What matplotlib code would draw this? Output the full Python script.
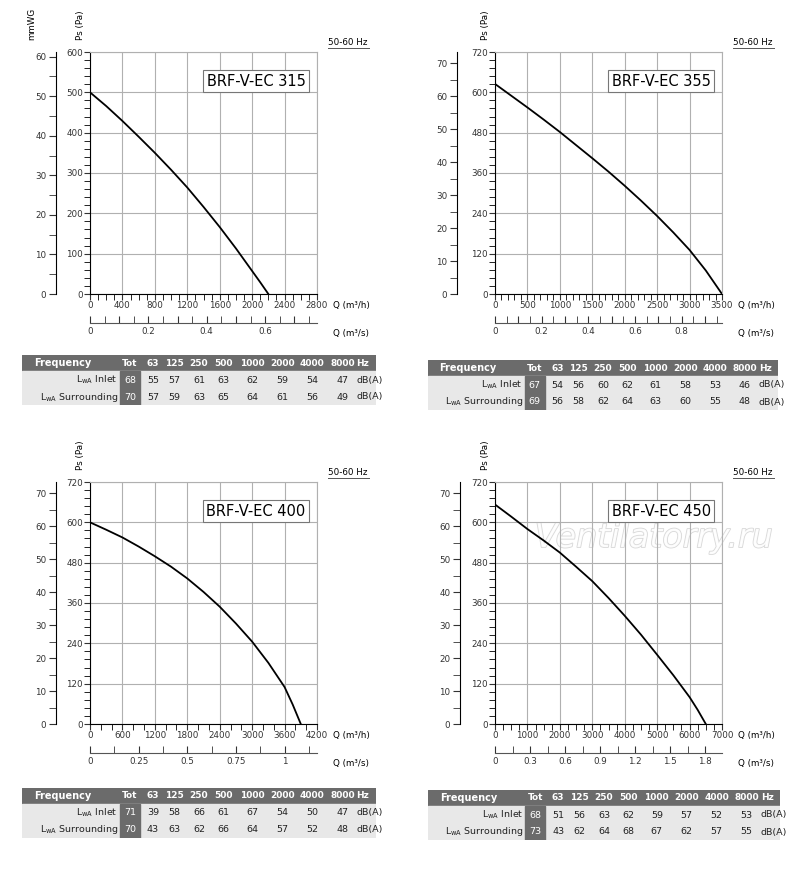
import numpy as np
import matplotlib.pyplot as plt
import matplotlib.patheffects as pe
from matplotlib.patches import Rectangle

W, H = 800, 876

# ---- data ----
models = ['BRF-V-EC 315', 'BRF-V-EC 355', 'BRF-V-EC 400', 'BRF-V-EC 450']
q_315 = [0, 200, 400, 600, 800, 1000, 1200, 1400, 1600, 1800, 2000, 2100, 2200]
p_315 = [500, 466, 429, 390, 350, 308, 264, 216, 166, 113, 57, 29, 0]
q_355 = [0, 250, 500, 750, 1000, 1250, 1500, 1750, 2000, 2250, 2500, 2750, 3000, 3250, 3500]
p_355 = [625, 590, 555, 519, 482, 443, 404, 364, 322, 278, 232, 183, 131, 70, 0]
q_400 = [0, 300, 600, 900, 1200, 1500, 1800, 2100, 2400, 2700, 3000, 3300, 3600, 3750, 3900]
p_400 = [600, 578, 555, 528, 499, 468, 433, 393, 349, 299, 245, 182, 110, 58, 0]
q_450 = [0, 500, 1000, 1500, 2000, 2500, 3000, 3500, 4000, 4500, 5000, 5500, 6000, 6250, 6500]
p_450 = [653, 617, 580, 546, 510, 468, 425, 375, 322, 266, 206, 145, 80, 42, 0]

freqs = ['Tot', '63', '125', '250', '500', '1000', '2000', '4000', '8000', 'Hz']
inlet_315 = [68, 55, 57, 61, 63, 62, 59, 54, 47]
surr_315 = [70, 57, 59, 63, 65, 64, 61, 56, 49]
inlet_355 = [67, 54, 56, 60, 62, 61, 58, 53, 46]
surr_355 = [69, 56, 58, 62, 64, 63, 60, 55, 48]
inlet_400 = [71, 39, 58, 66, 61, 67, 54, 50, 47]
surr_400 = [70, 43, 63, 62, 66, 64, 57, 52, 48]
inlet_450 = [68, 51, 56, 63, 62, 59, 57, 52, 53]
surr_450 = [73, 43, 62, 64, 68, 67, 62, 57, 55]

fig = plt.figure(figsize=(W / 100, H / 100), dpi=100)
fs = 6.3


def ax_px(x0, y0, x1, y1):
    return fig.add_axes([x0 / W, 1 - y1 / H, (x1 - x0) / W, (y1 - y0) / H])


def panel(px, py, q, p, title, ymax, ystep, yminor, xmax, xstep, xminor,
          s_lbl, sstep, sminor, mmwg_x, mm_title, wtext=False):
    x0, y0, x1, y1 = px, py, px + 227, py + 242
    ax = ax_px(x0, y0, x1, y1)
    ax.plot(q, p, color='black', lw=1.3)
    ax.set_xlim(0, xmax)
    ax.set_ylim(0, ymax)
    ax.set_xticks(np.arange(0, xmax + 1, xstep))
    ax.set_xticks(np.arange(0, xmax + 1, xminor), minor=True)
    ax.set_yticks(np.arange(0, ymax + 1, ystep))
    ax.set_yticks(np.arange(0, ymax + 1, yminor), minor=True)
    ax.grid(True, which='major', color='#b0b0b0', lw=0.8)
    for s in ['top', 'right']:
        ax.spines[s].set_color('#b0b0b0')
    ax.tick_params(labelsize=fs, length=4, pad=1, colors='#333333')
    ax.tick_params(which='minor', length=4)
    ax.text(-0.02, 1.05, 'Ps (Pa)', transform=ax.transAxes, rotation=90,
            fontsize=fs, ha='right', va='bottom')
    ax.text(1.07, -0.03, 'Q (m³/h)', transform=ax.transAxes, fontsize=fs,
            ha='left', va='top')
    ax.text(0.95, 0.88, title, transform=ax.transAxes, fontsize=10.5,
            ha='right', va='center',
            bbox=dict(boxstyle='square,pad=0.25', fc='white', ec='#777777', lw=0.8))
    ax.text(1.05, 1.02, '50-60 Hz', transform=ax.transAxes, fontsize=fs,
            ha='left', va='bottom')
    ax.plot([1.05, 1.23], [1.015, 1.015], transform=ax.transAxes,
            color='#555555', lw=0.7, clip_on=False)
    if wtext:
        ax.text(0.7, 0.77, 'Ventilatorry.ru', transform=ax.transAxes,
                fontsize=24, style='italic', color='white', ha='center',
                va='center', zorder=1, alpha=0.9,
                path_effects=[pe.withStroke(linewidth=1.2, foreground='#d4d4d4')])

    # secondary m3/s axis
    sx = ax_px(x0, y0 + 270, x1, y0 + 271)
    sx.set_xlim(0, xmax / 3600)
    sx.set_yticks([])
    for s in ['top', 'left', 'right']:
        sx.spines[s].set_visible(False)
    sx.spines['bottom'].set_color('#555555')
    sx.set_xticks(np.arange(0, xmax / 3600, sstep))
    sx.set_xticklabels(s_lbl)
    sx.set_xticks(np.arange(0, xmax / 3600, sminor), minor=True)
    sx.tick_params(which='both', direction='in', length=5, labelsize=fs, pad=3,
                   colors='#333333')
    sx.patch.set_alpha(0)
    sx.text(1.07, -6, 'Q (m³/s)', transform=sx.transAxes, fontsize=fs,
            ha='left', va='top')

    # mmWG axis
    mx = ax_px(mmwg_x, y0, mmwg_x + 1, y1)
    mx.set_ylim(0, ymax / 9.81)
    mx.set_xticks([])
    for s in ['top', 'bottom', 'right']:
        mx.spines[s].set_visible(False)
    mx.set_yticks(np.arange(0, ymax / 9.81, 10))
    mx.set_yticks(np.arange(0, ymax / 9.81, 5), minor=True)
    mx.tick_params(which='both', length=5, labelsize=fs, pad=2, colors='#333333')
    mx.patch.set_alpha(0)
    if mm_title:
        mx.text(-20, 1.05, 'mmWG', transform=mx.transAxes, rotation=90,
                fontsize=fs, ha='right', va='bottom')


def table(x0, y0, x1, inlet, surr):
    t = ax_px(x0, y0, x1, y0 + 50)
    t.set_xlim(x0, x1)
    t.set_ylim(y0 + 50, y0)
    t.axis('off')
    t.add_patch(Rectangle((x0, y0), x1 - x0, 16, color='#6b6b6b'))
    t.add_patch(Rectangle((x0, y0 + 16), x1 - x0, 34, color='#e8e8e8'))
    w = x1 - x0
    tot_x = x0 + w * 0.305
    t.add_patch(Rectangle((tot_x - 10, y0 + 16), 20, 34, color='#6b6b6b'))
    t.text(x0 + w * 0.115, y0 + 8, 'Frequency', color='white', fontsize=7,
           weight='bold', ha='center', va='center')
    cols = [tot_x] + list(x0 + w * np.array([0.37, 0.43, 0.5, 0.57, 0.65, 0.735, 0.82, 0.905]))
    hz_x = x0 + w * 0.945
    for xx, f in zip(cols + [hz_x], freqs):
        t.text(xx, y0 + 8, f, color='white', fontsize=6.5, weight='bold',
               ha='center' if f != 'Hz' else 'left', va='center')
    for row, (lbl, vals) in enumerate([('Inlet', inlet), ('Surrounding', surr)]):
        yy = y0 + 25 + row * 17
        t.text(tot_x - 12, yy, r'L$_{\rm wA}$ ' + lbl, fontsize=6.8,
               ha='right', va='center', color='#222222')
        for i, (xx, v) in enumerate(zip(cols, vals)):
            t.text(xx, yy, str(v), fontsize=6.8, ha='center', va='center',
                   color='white' if i == 0 else '#222222')
        t.text(hz_x, yy, 'dB(A)', fontsize=6.8, ha='left', va='center', color='#222222')


panel(90, 52, q_315, p_315, models[0], 600, 100, 20, 2800, 400, 100,
      ['0', '', '0.2', '', '0.4', '', '0.6', ''], 0.1, 0.05, 56, True)
panel(495, 52, q_355, p_355, models[1], 720, 120, 24, 3500, 500, 100,
      ['0', '', '0.2', '', '0.4', '', '0.6', '', '0.8', ''], 0.1, 0.05, 457, False)
panel(90, 482, q_400, p_400, models[2], 720, 120, 24, 4200, 600, 200,
      ['0', '0.25', '0.5', '0.75', '1'], 0.25, 0.125, 56, False)
panel(495, 482, q_450, p_450, models[3], 720, 120, 24, 7000, 1000, 250,
      ['0', '0.3', '0.6', '0.9', '1.2', '1.5', '1.8'], 0.3, 0.15, 460, False, True)

table(22, 355, 376, inlet_315, surr_315)
table(428, 360, 778, inlet_355, surr_355)
table(22, 788, 376, inlet_400, surr_400)
table(428, 790, 780, inlet_450, surr_450)

fig.savefig('out.png', dpi=100)
